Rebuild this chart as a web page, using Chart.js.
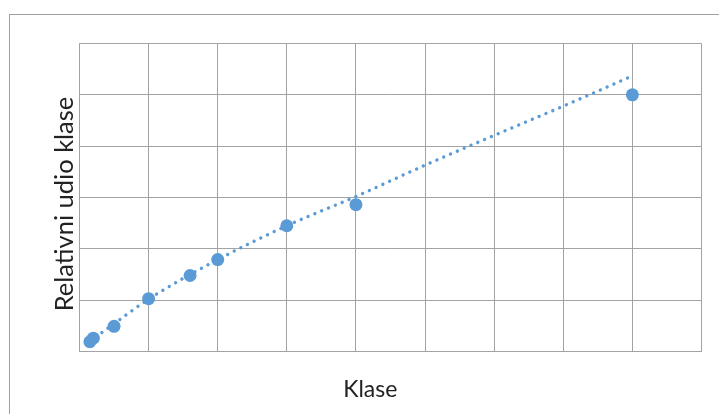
<!DOCTYPE html>
<html>
<head>
<meta charset="utf-8">
<script src="https://cdn.jsdelivr.net/npm/chart.js@4"></script>
<style>
    html, body { margin: 0; padding: 0; background: #fff; overflow: hidden; width: 719px; height: 414px; }
    #frame { position: absolute; left: 9px; top: 14px; width: 800px; height: 500px; border-left: 1px solid #a0a0a0; border-top: 1px solid #a0a0a0; }
    #chart { position: absolute; left: 0; top: 0; }
</style>
</head>
<body>
<div id="frame"></div>
<canvas id="chart" width="740" height="414"></canvas>
<script>
// Measured points (class vs. relative share)
const klaseX = [0.15, 0.2, 0.5, 1, 1.6, 2, 3, 4, 8];
const udioY = [0.19, 0.26, 0.49, 1.03, 1.48, 1.79, 2.45, 2.86, 5.0];

// Dotted trend line
const trendX = [0.15, 0.5, 1, 2, 3, 4, 5, 6, 7, 8];
const trendY = [0.2, 0.54, 1.02, 1.79, 2.45, 3.02, 3.63, 4.21, 4.78, 5.37];

const xMax = 9;
const yMax = 6;

const blue = '#5b9bd5';
const gridGray = '#a3a3a3';
const fontFamily = 'Lato, "Open Sans", sans-serif';

const points = klaseX.map((x, i) => ({ x, y: udioY[i] }));
const trend = trendX.map((x, i) => ({ x, y: trendY[i] }));

new Chart(document.getElementById('chart'), {
    type: 'scatter',
    data: {
        datasets: [{
            label: 'Trend',
            data: trend,
            showLine: true,
            borderColor: blue,
            borderWidth: 3.4,
            borderDash: [0.01, 7.4],
            borderCapStyle: 'round',
            cubicInterpolationMode: 'monotone',
            pointRadius: 0,
            pointHoverRadius: 0,
        }, {
            label: 'Relativni udio klase',
            data: points,
            backgroundColor: blue,
            borderWidth: 0,
            pointRadius: 6.5,
            pointHoverRadius: 6.5,
        }],
    },
    options: {
        responsive: false,
        animation: false,
        events: [],
        // left padding keeps the bottom title centred like the original chart box
        layout: { padding: { top: 43.5, right: 38.5, left: 39, bottom: 0 } },
        plugins: {
            legend: { display: false },
            tooltip: { enabled: false },
            title: {
                display: true,
                position: 'bottom',
                text: 'Klase',
                color: '#222',
                font: { family: fontFamily, size: 23, weight: 'normal', lineHeight: 1.2 },
                padding: { top: 24.7, bottom: 10.2 },
            },
        },
        scales: {
            x: {
                type: 'linear',
                min: 0,
                max: xMax,
                ticks: { display: false, stepSize: 1 },
                grid: { color: gridGray, lineWidth: 1, drawTicks: false, tickLength: 0 },
                border: { display: true, color: gridGray },
                afterFit: (scale) => { scale.height = 0; },
            },
            y: {
                type: 'linear',
                min: 0,
                max: yMax,
                ticks: { display: false, stepSize: 1 },
                grid: { color: gridGray, lineWidth: 1, drawTicks: false, tickLength: 0 },
                border: { display: true, color: gridGray },
                title: {
                    display: true,
                    // trailing spaces nudge the rotated title a little lower
                    text: 'Relativni udio klase  ',
                    color: '#222',
                    font: { family: fontFamily, size: 25.5, weight: 'normal', lineHeight: 1.2 },
                    padding: { top: 10.7, bottom: 0 },
                },
                afterFit: (scale) => { scale.width = 40.5; },
            },
        },
    },
});
</script>
</body>
</html>
